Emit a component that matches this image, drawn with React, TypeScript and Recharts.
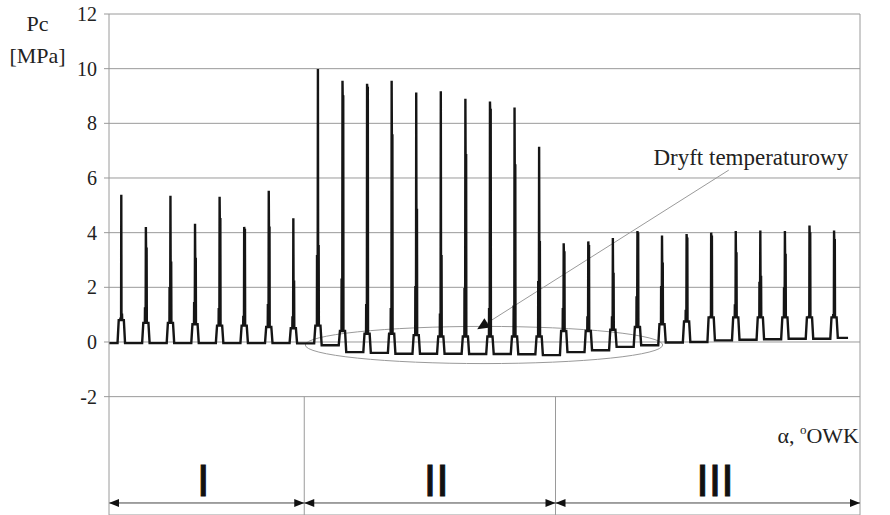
import {
  LineChart,
  Line,
  XAxis,
  YAxis,
  CartesianGrid,
  ReferenceLine,
  ReferenceArea,
  ReferenceDot,
} from "recharts";

// crank angle of every combustion peak (deg OWK)
const peakAngles = [
  360, 1080, 1800, 2520, 3240, 3960, 4680, 5400, 6120, 6840, 7560, 8280, 9000,
  9720, 10440, 11160, 11880, 12600, 13320, 14040, 14760, 15480, 16200, 16920,
  17640, 18360, 19080, 19800, 20520, 21240,
];
// peak pressure, MPa
const peakValues = [
  5.39, 4.21, 5.35, 4.33, 5.31, 4.21, 5.53, 4.53, 9.99, 9.56, 9.45, 9.56, 9.13,
  9.17, 8.9, 8.8, 8.58, 7.14, 3.61, 3.68, 3.8, 4.06, 3.9, 3.95, 4.0, 4.06, 4.08,
  4.06, 4.26, 4.08,
];
// pressure level where the falling edge stalls
const upperShoulders = [
  1.0, 3.41, 2.9, 3.04, 4.49, 4.1, 4.18, 2.21, 3.5, 8.98, 9.29, 7.56, 4.83,
  3.14, 6.83, 8.49, 6.46, 3.65, 3.28, 3.5, 2.49, 3.96, 2.86, 3.78, 3.85, 3.24,
  2.38, 3.18, 3.97, 3.72,
];
// pressure level on the rising edge
const lowerShoulders = [
  0.85, 1.23, 1.97, 1.42, 1.2, 0.92, 1.35, 0.9, 3.14, 2.28, 1.35, 1.2, 2.0, 1.0,
  1.93, 1.2, 1.29, 2.19, 1.2, 0.9, 0.9, 1.63, 2.0, 1.14, 0.92, 1.34, 2.16, 1.96,
  0.92, 0.98,
];
// compression plateau around each peak
const plateaus = [
  0.8, 0.7, 0.7, 0.65, 0.6, 0.6, 0.55, 0.5, 0.6, 0.4, 0.3, 0.3, 0.25, 0.2, 0.2,
  0.2, 0.2, 0.2, 0.4, 0.4, 0.45, 0.55, 0.65, 0.75, 0.9, 0.9, 0.9, 0.9, 0.9, 0.9,
];
// baseline in the valley before each peak (temperature drift)
const valleys = [
  -0.04, -0.04, -0.04, -0.04, -0.04, -0.04, -0.04, -0.04, -0.05, -0.12, -0.37,
  -0.4, -0.43, -0.43, -0.43, -0.44, -0.44, -0.45, -0.48, -0.37, -0.3, -0.18,
  -0.12, -0.02, 0.0, 0.06, 0.08, 0.1, 0.12, 0.12,
];
const tailValley = 0.15;
const endAngle = 21650;

const xTicks = [
  0, 2000, 4000, 6000, 8000, 10000, 12000, 14000, 16000, 18000, 20000, 22000,
];
const yTicks = [-2, 0, 2, 4, 6, 8, 10, 12];

const sectionBounds = [0, 5720, 13080, 22000];
const sectionNames = ["I", "II", "III"];
const sectionLabelX = [2760, 9590, 17750];

const W = 890;
const H = 515;
const TOP = 14;
const Y_MIN = -6.33;
const Y_MAX = 12;
const ZERO_Y = TOP + ((H - TOP) * Y_MAX) / (Y_MAX - Y_MIN);

const GRID = "#9a9a9a";
const SERIF = "Liberation Serif";

function buildTrace() {
  const pts: { x: number; y: number }[] = [{ x: 0, y: valleys[0] }];
  peakAngles.forEach((p, i) => {
    const v = valleys[i];
    const vNext = i + 1 < valleys.length ? valleys[i + 1] : tailValley;
    const c = plateaus[i];
    pts.push(
      { x: p - 110, y: v },
      { x: p - 75, y: c },
      { x: p - 30, y: c },
      { x: p - 26, y: lowerShoulders[i] },
      { x: p - 6, y: lowerShoulders[i] },
      { x: p, y: peakValues[i] },
      { x: p + 6, y: upperShoulders[i] },
      { x: p + 22, y: upperShoulders[i] },
      { x: p + 28, y: c },
      { x: p + 75, y: c },
      { x: p + 110, y: vNext }
    );
  });
  pts.push({ x: endAngle, y: tailValley });
  return pts;
}

const trace = buildTrace();

const XTick = ({ x, payload }: any) => (
  <g>
    <line x1={x} x2={x} y1={ZERO_Y} y2={ZERO_Y + 4} stroke={GRID} />
    <text
      x={x}
      y={ZERO_Y + 38}
      textAnchor="middle"
      fontSize={20}
      fill="#222"
      fontFamily={SERIF}
    >
      {payload.value}
    </text>
  </g>
);

const YTick = ({ x, y, payload }: any) => (
  <text
    x={x}
    y={y}
    dy={7}
    textAnchor="end"
    fontSize={20}
    fill="#222"
    fontFamily={SERIF}
  >
    {payload.value}
  </text>
);

const YTitle = (props: any) => {
  const vb = props.viewBox || { x: 0, y: TOP };
  return (
    <g fontFamily={SERIF} fontSize={22} fill="#222">
      <text x={vb.x + 37.5} y={vb.y + 17} textAnchor="middle" fill="#222">
        Pc
      </text>
      <text x={vb.x + 37.5} y={vb.y + 49} textAnchor="middle" fill="#222">
        [MPa]
      </text>
    </g>
  );
};

const SectionArrow = (props: any) => {
  const { x1, x2, y1 } = props;
  const a = 10;
  const h = 4;
  return (
    <g>
      <line x1={x1} x2={x2} y1={y1} y2={y1} stroke="#444" strokeWidth={1} />
      <polygon
        points={`${x1},${y1} ${x1 + a},${y1 - h} ${x1 + a},${y1 + h}`}
        fill="#111"
      />
      <polygon
        points={`${x2},${y1} ${x2 - a},${y1 - h} ${x2 - a},${y1 + h}`}
        fill="#111"
      />
    </g>
  );
};

const Pointer = (props: any) => {
  const { x1, y1, x2, y2 } = props;
  const dx = x2 - x1;
  const dy = y2 - y1;
  const len = Math.hypot(dx, dy) || 1;
  const ux = dx / len;
  const uy = dy / len;
  const L = 12;
  const hw = 5.5;
  const bx = x2 - ux * L;
  const by = y2 - uy * L;
  return (
    <g>
      <line x1={x1} y1={y1} x2={bx} y2={by} stroke={GRID} strokeWidth={1} />
      <polygon
        points={`${x2},${y2} ${bx - uy * hw},${by + ux * hw} ${bx + uy * hw},${by - ux * hw}`}
        fill="#111"
      />
    </g>
  );
};

const Ellipse = (props: any) => {
  const { x, y, width, height } = props;
  return (
    <ellipse
      cx={x + width / 2}
      cy={y + height / 2}
      rx={width / 2}
      ry={height / 2}
      fill="none"
      stroke={GRID}
      strokeWidth={1}
    />
  );
};

const textAt =
  (label: any, anchor: string, size: number, extra: any = {}) =>
  (props: any) => (
    <text
      x={props.cx}
      y={props.cy}
      textAnchor={anchor}
      fontSize={size}
      fill="#222"
      fontFamily={SERIF}
      {...extra}
    >
      {label}
    </text>
  );

export default function App() {
  return (
    <div style={{ position: "absolute", left: 0, top: 0, background: "#fff" }}>
      <LineChart
        width={W}
        height={H}
        data={trace}
        margin={{ top: TOP, right: 30, bottom: 0, left: 0 }}
        style={{ fontFamily: SERIF }}
      >
        <CartesianGrid vertical={false} stroke={GRID} />
        <XAxis
          dataKey="x"
          type="number"
          domain={[0, 22000]}
          ticks={xTicks}
          height={0}
          axisLine={false}
          tickLine={false}
          tick={<XTick />}
          interval={0}
        />
        <YAxis
          type="number"
          domain={[Y_MIN, Y_MAX]}
          ticks={yTicks}
          width={109}
          stroke={GRID}
          tickSize={5}
          tickMargin={7}
          interval={0}
          tick={<YTick />}
          label={<YTitle />}
        />
        <ReferenceLine x={22000} stroke={GRID} />
        {sectionBounds.slice(1, 3).map((b) => (
          <ReferenceLine
            key={b}
            segment={[
              { x: b, y: -2 },
              { x: b, y: Y_MIN },
            ]}
            stroke={GRID}
          />
        ))}
        {sectionNames.map((name, i) => (
          <ReferenceLine
            key={name}
            segment={[
              { x: sectionBounds[i], y: -5.89 },
              { x: sectionBounds[i + 1], y: -5.89 },
            ]}
            shape={SectionArrow}
          />
        ))}
        {sectionNames.map((name, i) => (
          <ReferenceDot
            key={"l" + name}
            x={sectionLabelX[i]}
            y={-5.63}
            r={0}
            shape={textAt(name, "middle", 45, {
              fontFamily: "Liberation Sans",
              fill: "#111",
              stroke: "#111",
              strokeWidth: 1,
            })}
          />
        ))}
        <ReferenceDot
          x={21971}
          y={-3.7}
          r={0}
          shape={textAt(
            <>
              α,{" "}
              <tspan fontSize={13} dy={-9}>
                o
              </tspan>
              <tspan dy={9}>OWK</tspan>
            </>,
            "end",
            22
          )}
        />
        <ReferenceArea
          x1={5750}
          x2={16220}
          y1={-0.79}
          y2={0.57}
          shape={Ellipse}
        />
        <ReferenceLine
          segment={[
            { x: 18157, y: 6.29 },
            { x: 10786, y: 0.465 },
          ]}
          shape={Pointer}
        />
        <ReferenceDot
          x={15949}
          y={6.48}
          r={0}
          shape={textAt("Dryft temperaturowy", "start", 23)}
        />
        <Line
          type="linear"
          dataKey="y"
          stroke="#151515"
          strokeWidth={2.4}
          dot={false}
          isAnimationActive={false}
        />
      </LineChart>
    </div>
  );
}
